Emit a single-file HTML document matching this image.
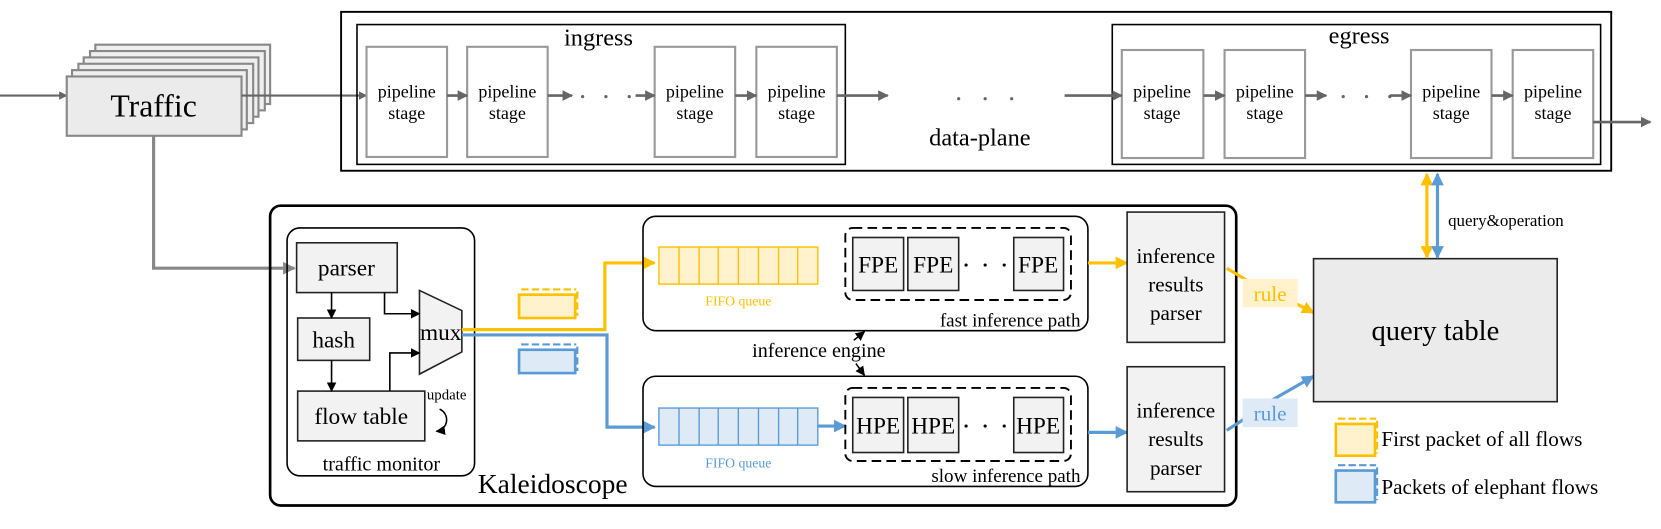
<!DOCTYPE html>
<html><head><meta charset="utf-8"><style>
html,body{margin:0;padding:0;background:#fff}
svg{display:block}
text{font-family:"Liberation Serif","Times New Roman",serif;fill:#000}
</style></head><body>
<svg width="1661" height="529" viewBox="0 0 1568 499" xmlns="http://www.w3.org/2000/svg" font-family="Liberation Serif, serif">
<defs>
<marker id="ag" viewBox="0 0 10 10" refX="9" refY="5" markerWidth="4" markerHeight="4" orient="auto"><path d="M0,0L10,5L0,10z" fill="#666"/></marker>
<marker id="ak" viewBox="0 0 10 10" refX="9" refY="5" markerWidth="6" markerHeight="6" orient="auto"><path d="M0,0L10,5L0,10z" fill="#000"/></marker>
<marker id="ay" viewBox="0 0 10 10" refX="9" refY="5" markerWidth="4" markerHeight="4" orient="auto-start-reverse"><path d="M0,0L10,5L0,10z" fill="#ffc000"/></marker>
<marker id="ab" viewBox="0 0 10 10" refX="9" refY="5" markerWidth="4" markerHeight="4" orient="auto-start-reverse"><path d="M0,0L10,5L0,10z" fill="#5b9bd5"/></marker>
<marker id="agg" viewBox="0 0 10 10" refX="9" refY="5" markerWidth="4" markerHeight="4" orient="auto"><path d="M0,0L10,5L0,10z" fill="#888"/></marker>
</defs>

<line x1="0" y1="90" x2="63" y2="90" stroke="#666" stroke-width="2" marker-end="url(#ag)"/>
<g stroke="#888" stroke-width="2" fill="#efefef">
<rect x="90" y="42" width="165" height="56"/>
<rect x="85" y="48" width="165" height="56"/>
<rect x="79" y="54" width="165" height="56"/>
<rect x="74" y="60" width="165" height="56"/>
<rect x="68" y="66" width="165" height="56"/>
<rect x="63" y="72" width="165" height="56" fill="#ebebeb"/>
</g>
<text x="145" y="110" font-size="30" text-anchor="middle">Traffic</text>
<line x1="228" y1="90" x2="346" y2="90" stroke="#666" stroke-width="2" marker-end="url(#ag)"/>
<polyline points="145,128 145,253 278,253" fill="none" stroke="#888" stroke-width="3" marker-end="url(#agg)"/>

<rect x="322" y="11" width="1199" height="150" fill="none" stroke="#000" stroke-width="1.8"/>
<rect x="337" y="23" width="461" height="132" fill="none" stroke="#000" stroke-width="1.5"/>
<text x="565" y="43" font-size="23" text-anchor="middle">ingress</text>
<rect x="1050" y="23" width="461" height="132" fill="none" stroke="#000" stroke-width="1.5"/>
<text x="1283" y="41" font-size="23" text-anchor="middle">egress</text>
<text x="925" y="137" font-size="23" text-anchor="middle">data-plane</text>
<g stroke="#999" stroke-width="2" fill="#fff">
<rect x="346" y="44" width="76" height="104"/>
<rect x="441" y="44" width="76" height="104"/>
<rect x="618" y="44" width="76" height="104"/>
<rect x="714" y="44" width="76" height="104"/>
<rect x="1059" y="47" width="77" height="102"/>
<rect x="1156" y="47" width="76" height="102"/>
<rect x="1332" y="47" width="76" height="102"/>
<rect x="1428" y="47" width="76" height="102"/>
</g>
<g font-size="17" text-anchor="middle">
<text x="384" y="92">pipeline</text><text x="384" y="112">stage</text>
<text x="479" y="92">pipeline</text><text x="479" y="112">stage</text>
<text x="656" y="92">pipeline</text><text x="656" y="112">stage</text>
<text x="752" y="92">pipeline</text><text x="752" y="112">stage</text>
<text x="1097" y="92">pipeline</text><text x="1097" y="112">stage</text>
<text x="1194" y="92">pipeline</text><text x="1194" y="112">stage</text>
<text x="1370" y="92">pipeline</text><text x="1370" y="112">stage</text>
<text x="1466" y="92">pipeline</text><text x="1466" y="112">stage</text>
</g>
<g stroke="#666" stroke-width="2.5" marker-end="url(#ag)">
<line x1="422" y1="90" x2="441" y2="90"/>
<line x1="517" y1="90" x2="540" y2="90"/>
<line x1="600" y1="90" x2="618" y2="90"/>
<line x1="694" y1="90" x2="714" y2="90"/>
<line x1="790" y1="90" x2="838" y2="90"/>
<line x1="1005" y1="90" x2="1059" y2="90"/>
<line x1="1136" y1="90" x2="1156" y2="90"/>
<line x1="1232" y1="90" x2="1252" y2="90"/>
<line x1="1312" y1="90" x2="1332" y2="90"/>
<line x1="1408" y1="90" x2="1428" y2="90"/>
<line x1="1504" y1="115" x2="1558" y2="115"/>
</g>
<g fill="#666">
<circle cx="550" cy="91" r="1.5"/><circle cx="572" cy="91" r="1.5"/><circle cx="594" cy="91" r="1.5"/>
<circle cx="905" cy="93" r="1.5"/><circle cx="930" cy="93" r="1.5"/><circle cx="955" cy="93" r="1.5"/>
<circle cx="1268" cy="91" r="1.5"/><circle cx="1290" cy="91" r="1.5"/><circle cx="1312" cy="91" r="1.5"/>
</g>

<rect x="255" y="194" width="912" height="283" rx="10" fill="none" stroke="#000" stroke-width="2.5"/>
<text x="451" y="465" font-size="26">Kaleidoscope</text>
<rect x="271" y="215" width="177" height="234" rx="12" fill="none" stroke="#000" stroke-width="1.5"/>
<text x="360" y="444" font-size="19" text-anchor="middle">traffic monitor</text>
<g stroke="#222" stroke-width="1.5" fill="#f2f2f2">
<rect x="280" y="229" width="95" height="47"/>
<rect x="281" y="300" width="68" height="40"/>
<rect x="281" y="369" width="120" height="47"/>
<polygon points="396,274 436,293 436,332 396,353"/>
</g>
<g font-size="22" text-anchor="middle">
<text x="327" y="260">parser</text>
<text x="315" y="328">hash</text>
<text x="341" y="400">flow table</text>
<text x="416" y="321">mux</text>
</g>
<g stroke="#000" stroke-width="1.5" fill="none" marker-end="url(#ak)">
<line x1="313" y1="276" x2="313" y2="300"/>
<line x1="313" y1="340" x2="313" y2="369"/>
<polyline points="363,276 363,296 396,296"/>
<polyline points="368,369 368,333 396,333"/>
</g>
<text x="403" y="377" font-size="14">update</text>
<path d="M415,386 A11,11 0 0 1 412,407" fill="none" stroke="#000" stroke-width="1.5" marker-end="url(#ak)"/>

<polyline points="436,311 571,311 571,248 618,248" fill="none" stroke="#ffc000" stroke-width="3" marker-end="url(#ay)"/>
<polyline points="436,316 573,316 573,403 618,403" fill="none" stroke="#5b9bd5" stroke-width="3" marker-end="url(#ab)"/>
<rect x="490" y="278" width="53" height="22" fill="#fff2cc" stroke="#ffc000" stroke-width="2.5"/>
<line x1="492" y1="273" x2="544" y2="273" stroke="#ffc000" stroke-width="2" stroke-dasharray="7,3"/>
<line x1="545" y1="275" x2="545" y2="298" stroke="#ffc000" stroke-width="2" stroke-dasharray="7,3"/>
<rect x="490" y="330" width="53" height="22" fill="#deebf7" stroke="#5b9bd5" stroke-width="2.5"/>
<line x1="492" y1="325" x2="544" y2="325" stroke="#5b9bd5" stroke-width="2" stroke-dasharray="7,3"/>
<line x1="545" y1="327" x2="545" y2="350" stroke="#5b9bd5" stroke-width="2" stroke-dasharray="7,3"/>

<rect x="607" y="204" width="420" height="108" rx="12" fill="none" stroke="#000" stroke-width="1.5"/>
<rect x="622" y="233" width="150" height="35" stroke="#ffc000" stroke-width="1.3" fill="#fff2cc"/>
<g stroke="#ffc000" stroke-width="1.3">
<line x1="641" y1="233" x2="641" y2="268"/><line x1="660" y1="233" x2="660" y2="268"/><line x1="678" y1="233" x2="678" y2="268"/><line x1="697" y1="233" x2="697" y2="268"/><line x1="716" y1="233" x2="716" y2="268"/><line x1="735" y1="233" x2="735" y2="268"/><line x1="753" y1="233" x2="753" y2="268"/>
</g>
<text x="697" y="288" font-size="13" text-anchor="middle" style="fill:#ffc000">FIFO queue</text>
<rect x="798" y="215" width="213" height="68" rx="7" fill="none" stroke="#000" stroke-width="1.8" stroke-dasharray="9,5"/>
<g stroke="#222" stroke-width="1.5" fill="#f2f2f2">
<rect x="805" y="224" width="48" height="50"/><rect x="857" y="224" width="48" height="50"/><rect x="957" y="224" width="47" height="50"/>
</g>
<g font-size="22" text-anchor="middle"><text x="829" y="257">FPE</text><text x="881" y="257">FPE</text><text x="980" y="257">FPE</text></g>
<g fill="#000"><circle cx="912" cy="250" r="1.5"/><circle cx="930" cy="250" r="1.5"/><circle cx="948" cy="250" r="1.5"/></g>
<text x="1020" y="308" font-size="18" text-anchor="end">fast inference path</text>

<text x="773" y="337" font-size="19" text-anchor="middle">inference engine</text>
<line x1="806" y1="321" x2="816" y2="313" stroke="#000" stroke-width="1.5" marker-end="url(#ak)"/>
<line x1="808" y1="343" x2="816" y2="354" stroke="#000" stroke-width="1.5" marker-end="url(#ak)"/>

<rect x="607" y="355" width="420" height="104" rx="12" fill="none" stroke="#000" stroke-width="1.5"/>
<rect x="622" y="385" width="150" height="35" fill="#deebf7" stroke="#5b9bd5" stroke-width="1.3"/>
<g stroke="#5b9bd5" stroke-width="1.3">
<line x1="641" y1="385" x2="641" y2="420"/><line x1="660" y1="385" x2="660" y2="420"/><line x1="678" y1="385" x2="678" y2="420"/><line x1="697" y1="385" x2="697" y2="420"/><line x1="716" y1="385" x2="716" y2="420"/><line x1="735" y1="385" x2="735" y2="420"/><line x1="753" y1="385" x2="753" y2="420"/>
</g>
<text x="697" y="441" font-size="13" text-anchor="middle" style="fill:#5b9bd5">FIFO queue</text>
<line x1="772" y1="402" x2="798" y2="402" stroke="#5b9bd5" stroke-width="3" marker-end="url(#ab)"/>
<rect x="798" y="366" width="213" height="69" rx="7" fill="none" stroke="#000" stroke-width="1.8" stroke-dasharray="9,5"/>
<g stroke="#222" stroke-width="1.5" fill="#f2f2f2">
<rect x="805" y="375" width="48" height="52"/><rect x="857" y="375" width="48" height="52"/><rect x="957" y="375" width="47" height="52"/>
</g>
<g font-size="22" text-anchor="middle"><text x="829" y="409">HPE</text><text x="881" y="409">HPE</text><text x="980" y="409">HPE</text></g>
<g fill="#000"><circle cx="912" cy="402" r="1.5"/><circle cx="930" cy="402" r="1.5"/><circle cx="948" cy="402" r="1.5"/></g>
<text x="1020" y="455" font-size="18" text-anchor="end">slow inference path</text>

<line x1="1027" y1="248" x2="1064" y2="248" stroke="#ffc000" stroke-width="3" marker-end="url(#ay)"/>
<line x1="1027" y1="408" x2="1064" y2="408" stroke="#5b9bd5" stroke-width="3" marker-end="url(#ab)"/>
<g stroke="#222" stroke-width="1.5" fill="#f2f2f2">
<rect x="1064" y="200" width="92" height="123"/>
<rect x="1064" y="346" width="92" height="118"/>
</g>
<g font-size="20" text-anchor="middle">
<text x="1110" y="248">inference</text><text x="1110" y="275">results</text><text x="1110" y="302">parser</text>
<text x="1110" y="394">inference</text><text x="1110" y="421">results</text><text x="1110" y="448">parser</text>
</g>

<line x1="1158" y1="253" x2="1200" y2="278" stroke="#ffc000" stroke-width="3"/>
<line x1="1215" y1="282" x2="1240" y2="295" stroke="#ffc000" stroke-width="3" marker-end="url(#ay)"/>
<rect x="1173" y="263" width="52" height="27" fill="#fff2cc"/>
<text x="1199" y="284" font-size="20" text-anchor="middle" style="fill:#ffc000">rule</text>
<line x1="1158" y1="406" x2="1180" y2="392" stroke="#5b9bd5" stroke-width="3"/>
<line x1="1200" y1="378" x2="1240" y2="355" stroke="#5b9bd5" stroke-width="3" marker-end="url(#ab)"/>
<rect x="1173" y="376" width="52" height="27" fill="#deebf7"/>
<text x="1199" y="397" font-size="20" text-anchor="middle" style="fill:#5b9bd5">rule</text>

<rect x="1240" y="244" width="230" height="135" fill="#ebebeb" stroke="#222" stroke-width="1.5"/>
<text x="1355" y="321" font-size="27" text-anchor="middle">query table</text>
<line x1="1347" y1="164" x2="1347" y2="243" stroke="#ffc000" stroke-width="3" marker-start="url(#ay)" marker-end="url(#ay)"/>
<line x1="1357" y1="164" x2="1357" y2="243" stroke="#5b9bd5" stroke-width="3" marker-start="url(#ab)" marker-end="url(#ab)"/>
<text x="1367" y="213" font-size="16">query&amp;operation</text>

<rect x="1261" y="400" width="37" height="30" fill="#fff2cc" stroke="#ffc000" stroke-width="2.5"/>
<line x1="1263" y1="395" x2="1299" y2="395" stroke="#ffc000" stroke-width="2" stroke-dasharray="7,3"/>
<line x1="1300" y1="397" x2="1300" y2="428" stroke="#ffc000" stroke-width="2" stroke-dasharray="7,3"/>
<text x="1304" y="421" font-size="20">First packet of all flows</text>
<rect x="1261" y="444" width="37" height="30" fill="#deebf7" stroke="#5b9bd5" stroke-width="2.5"/>
<line x1="1263" y1="439" x2="1299" y2="439" stroke="#5b9bd5" stroke-width="2" stroke-dasharray="7,3"/>
<line x1="1300" y1="441" x2="1300" y2="472" stroke="#5b9bd5" stroke-width="2" stroke-dasharray="7,3"/>
<text x="1304" y="466" font-size="20">Packets of elephant flows</text>
</svg>
</body></html>
